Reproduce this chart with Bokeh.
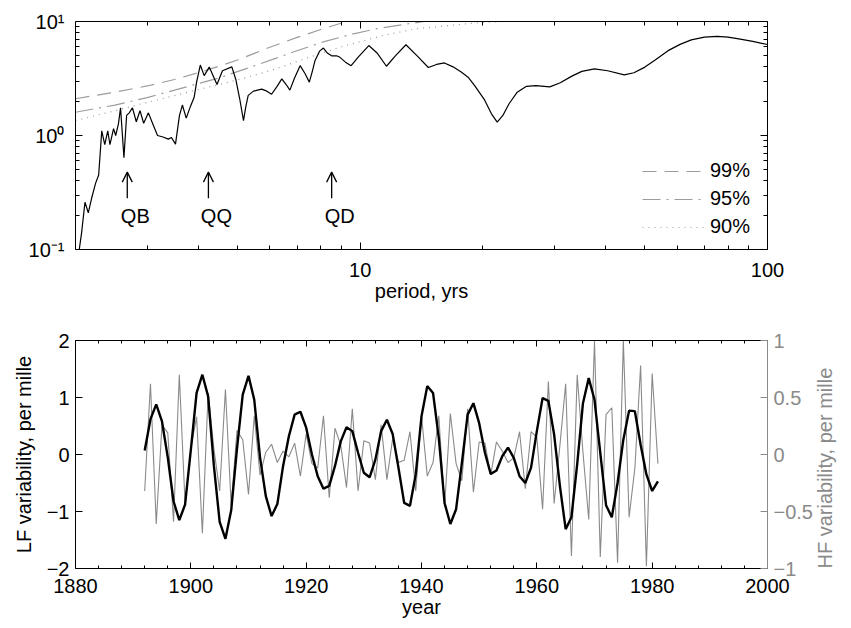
import math
from bokeh.plotting import figure
from bokeh.models import (Range1d, FixedTicker, LogAxis, LinearAxis, CustomJSTickFormatter,
                          Arrow, OpenHead, Label)
from bokeh.layouts import column
from bokeh.embed import file_html
from bokeh.resources import INLINE

FONT = "Liberation Sans"
FS = "20px"
HFGRAY = "#8a8a8a"
SIGGRAY = "#9c9c9c"

# ---------------- top panel: spectrum ----------------
spec_period = [2.03, 2.07, 2.11, 2.15, 2.19, 2.24, 2.28, 2.32, 2.36, 2.40,
               2.43, 2.48, 2.51, 2.55, 2.58, 2.63, 2.67, 2.71, 2.76, 2.82,
               2.88, 2.94, 3.02, 3.10, 3.18, 3.28, 3.38, 3.44, 3.52, 3.60,
               3.66, 3.74, 3.83, 3.91, 3.97, 4.05, 4.14, 4.26, 4.45, 4.59,
               4.84, 4.95, 5.06, 5.17, 5.24, 5.31, 5.47, 5.6, 5.73, 5.9,
               6.06, 6.25, 6.42, 6.58, 6.72, 6.9, 7.12, 7.32, 7.5, 7.62,
               7.74, 7.95, 8.12, 8.3, 8.51, 8.75, 8.92, 9.2, 9.5, 9.9,
               10.5, 11.0, 11.6, 12.2, 12.95, 13.8, 14.7, 15.4, 16.1, 16.9,
               17.7, 18.4, 19.1, 20.2, 21.0, 21.7, 22.4, 23.2, 24.3, 25.6,
               27.0, 29.2, 31.0, 33.0, 35.0, 37.6, 40.5, 44.5, 47.0, 50.0,
               53.0, 57.0, 61.0, 65.0, 70.0, 75.3, 80.0, 85.0, 92.0, 100.0]
spec_power = [0.085, 0.14, 0.26, 0.21, 0.28, 0.38, 0.45, 1.1, 0.83, 1.1,
              0.83, 1.15, 1.0, 1.27, 1.75, 0.64, 1.5, 1.58, 1.75, 1.32,
              1.65, 1.28, 1.58, 1.25, 1.0, 0.97, 0.93, 0.96, 0.84, 1.5,
              1.85, 1.42, 1.8, 2.15, 3.0, 4.15, 3.35, 3.98, 2.8, 3.7,
              4.0, 3.1, 2.1, 1.35, 1.8, 2.25, 2.45, 2.5, 2.55, 2.45,
              2.3, 2.7, 3.14, 2.8, 2.5, 3.2, 4.1, 3.5, 2.94, 3.6,
              4.5, 5.5, 5.85, 5.3, 5.0, 5.0, 4.85, 4.4, 4.1, 4.9,
              6.15, 5.3, 4.05, 5.0, 6.25, 5.0, 3.95, 4.2, 4.33, 4.0,
              3.6, 3.25, 2.74, 2.05, 1.55, 1.31, 1.5, 1.9, 2.4, 2.7,
              2.74, 2.67, 2.9, 3.3, 3.65, 3.84, 3.7, 3.4, 3.55, 3.98,
              4.6, 5.55, 6.3, 6.9, 7.3, 7.4, 7.3, 7.05, 6.7, 6.28]

sig99_period = [2.0, 2.5, 3.0, 3.5, 4.0, 4.5, 5.0, 5.5, 6.0, 7.0, 8.0, 9.0, 10.0, 11.0]
sig99_power = [2.1, 2.4, 2.72, 3.1, 3.55, 4.05, 4.6, 5.25, 5.95, 7.25, 8.5, 9.7, 10.9, 12.0]
sig95_period = [2.0, 2.5, 3.0, 3.5, 4.0, 4.5, 5.3, 6.2, 7.05, 8.2, 9.5, 10.9, 12.5, 14.2, 16.0]
sig95_power = [1.6, 1.85, 2.15, 2.5, 2.85, 3.2, 3.9, 4.75, 5.6, 6.7, 7.7, 8.6, 9.3, 9.95, 10.5]
sig90_period = [2.0, 2.5, 3.0, 3.5, 4.0, 4.4, 5.3, 6.2, 7.5, 9.0, 11.3, 13.6, 16.4, 19.8, 23.0, 28.0]
sig90_power = [1.35, 1.65, 1.95, 2.24, 2.53, 2.74, 3.25, 3.84, 4.86, 6.0, 7.5, 8.6, 9.2, 9.8, 10.05, 10.4]
sig_labels = ["99%", "95%", "90%"]

peak_names = ["QB", "QQ", "QD"]
peak_period = [2.68, 4.24, 8.51]

period_ticks = [10, 100]
period_minor = [3, 4, 5, 6, 7, 8, 9, 20, 30, 40, 50, 60, 70, 80, 90]
power_ticks = [0.1, 1, 10]
power_tick_labels = ["10\u207b\u00b9", "10\u2070", "10\u00b9"]
power_minor = [0.2, 0.3, 0.4, 0.5, 0.6, 0.7, 0.8, 0.9, 2, 3, 4, 5, 6, 7, 8, 9]

# ---------------- bottom panel: time series ----------------
years = list(range(1892, 1982))
lf = [0.07, 0.62, 0.88, 0.58, -0.05, -0.82, -1.15, -0.88, 0.08, 1.08,
      1.40, 1.02, -0.2, -1.18, -1.48, -0.98, 0.1, 1.05, 1.38, 0.96,
      -0.05, -0.73, -1.08, -0.87, -0.2, 0.32, 0.7, 0.75, 0.47, 0.0,
      -0.38, -0.6, -0.55, -0.2, 0.23, 0.48, 0.41, 0.03, -0.32, -0.4,
      -0.09, 0.41, 0.61, 0.36, -0.23, -0.85, -0.9, -0.35, 0.67, 1.2,
      1.08, 0.29, -0.85, -1.22, -0.96, -0.15, 0.7, 0.9, 0.55, 0.03,
      -0.34, -0.28, -0.03, 0.12, -0.06, -0.38, -0.5, -0.23, 0.41, 0.99,
      0.94, 0.35, -0.55, -1.31, -1.1, -0.17, 0.9, 1.34, 0.96, 0.03,
      -0.89, -1.1, -0.5, 0.26, 0.77, 0.76, 0.17, -0.35, -0.64, -0.47]
hf = [-0.32, 0.62, -0.61, 0.26, 0.19, -0.59, 0.70, -0.43, 0.05, 0.33,
      -0.69, 0.54, 0.05, -0.32, 0.57, -0.45, 0.21, 0.13, -0.35, 0.34,
      -0.18, 0.02, 0.09, -0.07, 0.03, -0.02, 0.10, -0.19, 0.18, -0.08,
      -0.12, 0.34, -0.38, 0.23, 0.08, -0.29, 0.40, -0.32, 0.12, 0.10,
      -0.22, 0.26, -0.22, 0.14, -0.07, -0.05, 0.20, -0.32, 0.34, -0.19,
      -0.07, 0.34, -0.46, 0.36, -0.08, -0.23, 0.40, -0.33, 0.11, 0.10,
      -0.18, 0.11, 0.03, -0.07, -0.03, 0.20, -0.30, 0.20, 0.15, -0.48,
      0.64, -0.43, 0.08, 0.62, -0.89, 0.70, 0.02, -0.57, 1.0, -0.90,
      0.35, 0.41, -0.95, 1.0, -0.55, -0.12, 0.78, -0.98, 0.71, -0.08]

year_ticks = list(range(1880, 2001, 20))
year_minor = [y for y in range(1880, 2001, 4) if y % 20]
lf_ticks = [-2, -1, 0, 1, 2]
hf_ticks = [-1, -0.5, 0, 0.5, 1]

BLANK = "return '';"
MINUS = "return (tick < 0 ? '\u2212' + Math.abs(tick) : '' + tick);"


def style_axis(ax, color="black", major_in=7, minor_in=4):
    ax.axis_line_color = color
    ax.axis_line_width = 1
    ax.major_tick_line_color = color
    ax.minor_tick_line_color = color
    ax.major_tick_in = major_in
    ax.major_tick_out = 0
    ax.minor_tick_in = minor_in
    ax.minor_tick_out = 0
    ax.major_label_text_font = FONT
    ax.major_label_text_font_size = FS
    ax.major_label_text_color = color
    ax.axis_label_text_font = FONT
    ax.axis_label_text_font_size = FS
    ax.axis_label_text_font_style = "normal"
    ax.axis_label_text_color = color


# ---------- top figure ----------
p1 = figure(width=849, height=307, x_axis_type="log", y_axis_type="log",
            x_range=Range1d(2, 100), y_range=Range1d(0.1, 10),
            output_backend="svg", toolbar_location=None,
            min_border_left=75, min_border_right=80, min_border_top=21, min_border_bottom=58,
            x_axis_label="period, yrs")
p1.outline_line_color = None
p1.grid.visible = False
p1.background_fill_color = "white"

xt = FixedTicker(ticks=period_ticks, minor_ticks=period_minor)
yt = FixedTicker(ticks=power_ticks, minor_ticks=power_minor)

xb = p1.below[0]
xb.ticker = xt
xb.formatter = CustomJSTickFormatter(code="return '' + tick;")
style_axis(xb)
xb.major_label_standoff = 13
xb.axis_label_standoff = 0

yl = p1.left[0]
yl.ticker = yt
yl.formatter = CustomJSTickFormatter(
    args=dict(labels=power_tick_labels),
    code="const i = Math.round(Math.log10(tick)) + 1; return labels[i];")
style_axis(yl)
yl.major_label_standoff = 11

xa = LogAxis(ticker=xt, formatter=CustomJSTickFormatter(code=BLANK))
style_axis(xa)
p1.add_layout(xa, "above")
yr = LogAxis(ticker=yt, formatter=CustomJSTickFormatter(code=BLANK))
style_axis(yr)
p1.add_layout(yr, "right")

p1.line(sig99_period, sig99_power, line_color=SIGGRAY, line_width=1.2,
        line_dash="14 8", legend_label=sig_labels[0])
p1.line(sig95_period, sig95_power, line_color=SIGGRAY, line_width=1.2,
        line_dash="18 6 2 6", legend_label=sig_labels[1])
p1.line(sig90_period, sig90_power, line_color=SIGGRAY, line_width=1.2,
        line_dash="1 5", legend_label=sig_labels[2])
p1.line(spec_period, spec_power, line_color="black", line_width=1.2)

leg = p1.legend[0]
leg.location = (563, 7)
leg.margin = 0
leg.padding = 4
leg.spacing = 5
leg.glyph_width = 62
leg.label_standoff = 6
leg.background_fill_alpha = 0
leg.border_line_alpha = 0
leg.label_text_font = FONT
leg.label_text_font_size = FS
leg.label_text_color = "black"

for name, per in zip(peak_names, peak_period):
    p1.add_layout(Arrow(end=OpenHead(size=10, line_width=1.3, line_color="black"),
                        x_start=per, y_start=0.282, x_end=per, y_end=0.477,
                        line_width=1.3, line_color="black"))
    p1.add_layout(Label(x=per, y=0.196, x_offset=8, text=name, text_align="center",
                        text_baseline="middle", text_font=FONT, text_font_size=FS,
                        text_color="black"))

# ---------- bottom figure ----------
p2 = figure(width=849, height=316, x_range=Range1d(1880, 2000), y_range=Range1d(-2, 2),
            output_backend="svg", toolbar_location=None,
            min_border_left=74, min_border_right=80, min_border_top=33, min_border_bottom=55,
            x_axis_label="year", y_axis_label="LF variability, per mille")
p2.outline_line_color = None
p2.grid.visible = False
p2.extra_y_ranges = {"hf": Range1d(-1, 1)}

yt2 = FixedTicker(ticks=year_ticks, minor_ticks=year_minor)
xb2 = p2.below[0]
xb2.ticker = yt2
xb2.formatter = CustomJSTickFormatter(code="return '' + tick;")
style_axis(xb2, major_in=6, minor_in=3)
xb2.major_label_standoff = 10
xb2.axis_label_standoff = 0

xa2 = LinearAxis(ticker=yt2, formatter=CustomJSTickFormatter(code=BLANK))
style_axis(xa2, major_in=6, minor_in=3)
p2.add_layout(xa2, "above")

yl2 = p2.left[0]
yl2.ticker = FixedTicker(ticks=lf_ticks, minor_ticks=[])
yl2.formatter = CustomJSTickFormatter(code=MINUS)
style_axis(yl2)
yl2.major_label_standoff = 6
yl2.axis_label_standoff = 9

yr2 = LinearAxis(y_range_name="hf", ticker=FixedTicker(ticks=hf_ticks, minor_ticks=[]),
                 formatter=CustomJSTickFormatter(code=MINUS),
                 axis_label="HF variability, per mille")
style_axis(yr2, color=HFGRAY)
yr2.major_label_standoff = 6
yr2.axis_label_standoff = 9
yr2.axis_label_orientation = math.pi / 2
yr2.axis_label_align = "start"
p2.add_layout(yr2, "right")

p2.line(years, hf, y_range_name="hf", line_color=HFGRAY, line_width=1.1)
p2.line(years, lf, line_color="black", line_width=2.4)

layout = column(p1, p2, spacing=0)

open("out.html", "w").write(file_html(layout, INLINE))
